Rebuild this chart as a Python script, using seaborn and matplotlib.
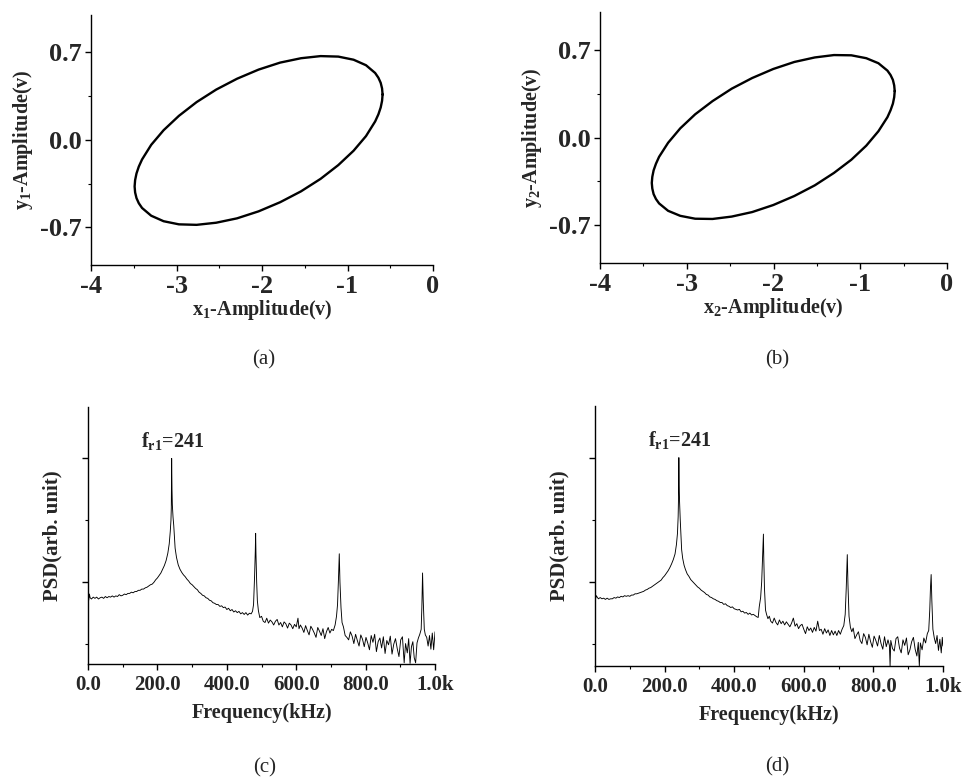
import numpy as np
import pandas as pd
import matplotlib
matplotlib.use("Agg")
import matplotlib.pyplot as plt
import seaborn as sns

# ---- data ----
# phase portraits (closed loops), points taken around the curve
loop_x1 = [-0.590, -0.596, -0.612, -0.639, -0.677, -0.784, -0.929, -1.108, -1.315, -1.544,
           -1.788, -2.040, -2.292, -2.536, -2.765, -2.972, -3.151, -3.296, -3.403, -3.441,
           -3.468, -3.484, -3.490, -3.484, -3.468, -3.441, -3.403, -3.296, -3.151, -2.972,
           -2.765, -2.536, -2.292, -2.040, -1.788, -1.544, -1.315, -1.108, -0.929, -0.784,
           -0.677, -0.639, -0.612, -0.596, -0.590]
loop_y1 = [0.364, 0.412, 0.457, 0.498, 0.536, 0.598, 0.642, 0.667, 0.671, 0.654,
           0.619, 0.563, 0.490, 0.403, 0.303, 0.193, 0.078, -0.039, -0.156, -0.213,
           -0.268, -0.321, -0.372, -0.420, -0.465, -0.506, -0.544, -0.606, -0.650, -0.675,
           -0.679, -0.662, -0.627, -0.571, -0.498, -0.411, -0.311, -0.201, -0.086, 0.031,
           0.148, 0.205, 0.260, 0.313, 0.364]

loop_x2 = [-0.603, -0.609, -0.624, -0.651, -0.687, -0.791, -0.931, -1.103, -1.303, -1.524,
           -1.760, -2.003, -2.246, -2.482, -2.703, -2.903, -3.075, -3.215, -3.319, -3.355,
           -3.382, -3.397, -3.403, -3.397, -3.382, -3.355, -3.319, -3.215, -3.075, -2.903,
           -2.703, -2.482, -2.246, -2.003, -1.760, -1.524, -1.303, -1.103, -0.931, -0.791,
           -0.687, -0.651, -0.624, -0.609, -0.603]
loop_y2 = [0.370, 0.415, 0.459, 0.498, 0.533, 0.592, 0.632, 0.655, 0.657, 0.638,
           0.602, 0.546, 0.474, 0.389, 0.290, 0.185, 0.073, -0.042, -0.154, -0.209,
           -0.262, -0.313, -0.362, -0.407, -0.451, -0.490, -0.525, -0.584, -0.624, -0.647,
           -0.649, -0.630, -0.594, -0.538, -0.466, -0.381, -0.282, -0.177, -0.065, 0.050,
           0.162, 0.217, 0.270, 0.321, 0.370]

# power spectra (arbitrary log units)
freq_c = [0, 2, 4, 6, 10, 15, 20, 25, 30, 35, 40, 45, 50, 55, 60, 65, 70, 75, 80, 85,
          90, 95, 100, 105, 110, 115, 120, 125, 130, 135, 140, 145, 150, 155, 160, 165, 170, 175, 180, 185,
          190, 195, 200, 205, 210, 215, 220, 225, 230, 234, 237, 239, 240, 241, 242, 243, 245, 247, 249, 251,
          255, 260, 265, 270, 275, 280, 285, 290, 295, 300, 305, 310, 315, 320, 325, 330, 335, 340, 345, 350,
          355, 360, 365, 370, 375, 380, 385, 390, 395, 400, 405, 410, 415, 420, 425, 430, 435, 440, 445, 450,
          455, 460, 465, 470, 474, 477, 480, 482, 483, 484, 486, 488, 491, 495, 500, 505, 510, 515, 520, 525,
          530, 535, 540, 545, 550, 555, 560, 565, 570, 575, 580, 585, 590, 595, 600, 605, 608, 612, 617, 622,
          627, 632, 637, 642, 647, 652, 657, 662, 667, 672, 677, 682, 687, 692, 697, 702, 707, 712, 716, 719,
          722, 724, 726, 729, 732, 736, 741, 746, 751, 756, 761, 766, 771, 776, 781, 786, 791, 796, 801, 806,
          811, 816, 821, 826, 831, 836, 841, 846, 851, 856, 861, 866, 871, 876, 881, 886, 891, 896, 901, 906,
          911, 915, 920, 924, 928, 932, 936, 940, 944, 948, 952, 956, 960, 962, 964, 966, 969, 972, 976, 980,
          984, 988, 992, 996, 1000]
psd_c = [-21.6, -22.9, -21.9, -22.5, -22.7, -22.4, -22.6, -22.4, -22.7, -22.5, -22.4, -22.6, -22.3, -22.5, -22.3, -22.4, -22.2, -22.4, -22.2, -22.3,
         -22.0, -22.2, -22.1, -21.9, -22.0, -21.8, -21.8, -21.6, -21.7, -21.5, -21.5, -21.3, -21.3, -21.1, -21.1, -20.9, -20.8, -20.6, -20.4, -20.3,
         -20.0, -19.6, -19.3, -18.9, -18.5, -17.9, -17.3, -16.5, -15.3, -13.8, -11.8, -10.0, -8.0, 0.0, -5.0, -7.5, -9.5, -10.8, -12.8, -14.5,
         -16.0, -17.2, -17.9, -18.4, -18.8, -19.1, -19.5, -19.8, -20.2, -20.4, -20.7, -21.0, -21.2, -21.6, -21.8, -22.1, -22.2, -22.5, -22.6, -22.9,
         -23.0, -23.3, -23.4, -23.6, -23.6, -23.9, -23.8, -24.1, -24.0, -24.4, -24.2, -24.6, -24.4, -24.8, -24.6, -24.9, -24.7, -25.1, -24.9, -25.2,
         -24.9, -25.3, -25.0, -25.1, -24.7, -23.6, -19.0, -15.0, -12.1, -15.5, -20.0, -23.0, -24.6, -25.7, -25.5, -26.3, -26.5, -25.8, -26.6, -26.1,
         -26.4, -26.9, -26.3, -26.0, -26.9, -26.5, -27.2, -26.4, -26.7, -27.4, -26.6, -26.9, -27.5, -26.8, -27.2, -25.8, -27.5, -26.9, -27.4, -28.1,
         -27.0, -27.8, -28.5, -27.1, -27.6, -28.2, -28.9, -27.3, -27.9, -28.6, -27.5, -29.1, -28.0, -27.3, -28.2, -27.6, -27.8, -26.9, -25.5, -23.6,
         -19.0, -15.4, -20.0, -24.1, -26.5, -27.2, -28.6, -28.9, -29.3, -28.0, -28.7, -29.9, -28.4, -29.4, -30.3, -28.5, -29.2, -30.4, -28.9, -29.8,
         -30.9, -28.6, -29.7, -28.4, -31.2, -29.6, -29.0, -30.6, -28.8, -31.5, -29.4, -30.1, -28.7, -31.6, -30.0, -29.1, -30.7, -32.0, -29.3, -28.8,
         -33.0, -29.9, -31.4, -29.1, -33.1, -30.4, -29.6, -32.2, -33.0, -29.8, -29.0, -28.4, -27.6, -24.0, -18.5, -23.0, -27.6, -28.5, -28.9, -30.3,
         -28.6, -30.8, -28.2, -30.9, -28.0]

freq_d = [0, 2, 4, 7, 10, 15, 20, 25, 30, 35, 40, 45, 50, 55, 60, 65, 70, 75, 80, 85,
          90, 95, 100, 105, 110, 115, 120, 125, 130, 135, 140, 145, 150, 155, 160, 165, 170, 175, 180, 185,
          190, 195, 200, 205, 210, 215, 220, 225, 230, 234, 237, 239, 240, 241, 242, 243, 245, 247, 249, 252,
          256, 260, 265, 270, 275, 280, 285, 290, 295, 300, 305, 310, 315, 320, 325, 330, 335, 340, 345, 350,
          355, 360, 365, 370, 375, 380, 385, 390, 395, 400, 405, 410, 415, 420, 425, 430, 435, 440, 445, 450,
          455, 460, 465, 469, 472, 476, 479, 482, 484, 485, 487, 490, 493, 497, 501, 505, 510, 515, 520, 525,
          530, 535, 540, 545, 550, 555, 560, 565, 570, 575, 580, 585, 590, 595, 600, 605, 610, 615, 620, 625,
          630, 635, 640, 645, 650, 655, 660, 665, 670, 675, 680, 685, 690, 695, 700, 705, 710, 715, 719, 722,
          725, 727, 730, 734, 738, 742, 747, 752, 757, 762, 767, 772, 777, 782, 787, 792, 797, 802, 807, 812,
          817, 822, 827, 832, 837, 842, 846, 848, 850, 855, 860, 865, 870, 875, 880, 885, 890, 895, 900, 905,
          910, 915, 920, 925, 929, 932, 935, 940, 945, 950, 955, 959, 962, 964, 966, 968, 971, 975, 979, 983,
          987, 991, 995, 998, 1000]
psd_d = [-21.5, -22.6, -22.2, -22.5, -22.7, -22.5, -22.7, -22.6, -22.8, -22.6, -22.8, -22.7, -22.7, -22.5, -22.6, -22.4, -22.5, -22.3, -22.4, -22.2,
         -22.3, -22.2, -22.3, -22.1, -22.1, -21.9, -21.9, -21.8, -21.7, -21.6, -21.5, -21.3, -21.2, -21.0, -20.9, -20.7, -20.5, -20.3, -20.1, -19.9,
         -19.7, -19.3, -19.0, -18.6, -18.2, -17.7, -17.1, -16.4, -15.5, -14.0, -12.2, -9.5, -6.5, 0.0, -4.5, -7.0, -10.0, -12.5, -14.8, -16.2,
         -17.3, -18.0, -18.7, -19.1, -19.6, -19.9, -20.2, -20.5, -20.8, -21.0, -21.3, -21.5, -21.7, -22.0, -22.1, -22.4, -22.5, -22.7, -22.8, -23.0,
         -23.1, -23.3, -23.3, -23.6, -23.5, -23.8, -23.9, -24.1, -24.0, -24.3, -24.4, -24.5, -24.4, -24.8, -24.7, -25.0, -24.9, -25.2, -25.0, -25.3,
         -25.2, -25.4, -25.6, -25.7, -24.0, -22.5, -20.0, -15.5, -12.3, -16.0, -21.0, -24.5, -25.2, -25.9, -25.5, -26.3, -26.6, -25.8, -26.5, -26.9,
         -26.1, -26.7, -26.3, -26.9, -26.4, -26.8, -27.2, -26.6, -25.8, -27.1, -26.7, -27.5, -27.0, -26.8, -27.6, -28.3, -27.2, -27.8, -27.4, -28.1,
         -27.3, -27.9, -26.3, -27.8, -27.6, -28.4, -27.5, -28.2, -27.7, -28.6, -27.8, -28.5, -27.9, -28.6, -27.8, -28.4, -27.6, -27.0, -25.2, -21.0,
         -15.6, -20.5, -25.5, -27.3, -28.0, -27.4, -29.1, -28.5, -28.0, -29.4, -29.9, -28.3, -28.9, -30.1, -28.4, -29.6, -30.5, -28.7, -29.4, -30.3,
         -28.6, -29.9, -30.8, -28.8, -30.4, -29.3, -30.2, -33.5, -29.4, -30.7, -31.1, -29.1, -28.8, -30.6, -31.4, -29.3, -30.2, -29.0, -31.7, -30.9,
         -29.6, -28.9, -30.8, -31.9, -29.7, -33.5, -29.8, -30.9, -29.0, -29.8, -28.3, -27.8, -24.5, -21.0, -18.8, -23.0, -27.6, -29.0, -29.9, -28.6,
         -31.0, -29.2, -31.4, -28.9, -30.3]

amp_ticks = [-0.7, 0.0, 0.7]
amp_tick_labels = ["-0.7", "0.0", "0.7"]
x_amp_ticks = [-4, -3, -2, -1, 0]
freq_ticks = [0, 200, 400, 600, 800, 1000]
freq_tick_labels = ["0.0", "200.0", "400.0", "600.0", "800.0", "1.0k"]
peak_label = r"$\mathrm{f_{r1}}$=241"

sns.set_style("ticks")
plt.rcParams["font.family"] = ["Liberation Serif", "DejaVu Serif"]
plt.rcParams["font.weight"] = "bold"
plt.rcParams["axes.labelweight"] = "bold"
plt.rcParams["axes.unicode_minus"] = False
plt.rcParams["mathtext.fontset"] = "custom"
plt.rcParams["mathtext.rm"] = "Liberation Serif:bold"
plt.rcParams["mathtext.it"] = "Liberation Serif:bold"
plt.rcParams["mathtext.bf"] = "Liberation Serif:bold"

fig = plt.figure(figsize=(9.64, 7.8), dpi=100)
ax_a = fig.add_axes([0.0944, 0.6603, 0.3548, 0.3205])
ax_b = fig.add_axes([0.6224, 0.6628, 0.3600, 0.3218])
ax_c = fig.add_axes([0.0913, 0.1487, 0.3600, 0.3295])
ax_d = fig.add_axes([0.6172, 0.1462, 0.3610, 0.3333])


def style_axes(ax):
    sns.despine(ax=ax)
    for s in ["left", "bottom"]:
        ax.spines[s].set_linewidth(1.0)
        ax.spines[s].set_color("black")
    ax.tick_params(which="major", direction="out", length=4, width=1.0, color="black")
    ax.tick_params(which="minor", direction="out", length=2.5, width=0.8, color="black")


def loop_panel(ax, xs, ys, idx):
    df = pd.DataFrame({"x": xs, "y": ys})
    sns.lineplot(data=df, x="x", y="y", sort=False, estimator=None, color="black",
                 linewidth=1.7, solid_joinstyle="round", ax=ax)
    ax.set_xlim(-4, 0)
    ax.set_ylim(-1.0, 1.0)
    ax.set_xticks(x_amp_ticks)
    ax.set_xticklabels([str(t) for t in x_amp_ticks])
    ax.set_xticks([-3.5, -2.5, -1.5, -0.5], minor=True)
    ax.set_yticks(amp_ticks)
    ax.set_yticklabels(amp_tick_labels)
    ax.set_yticks([-0.35, 0.35], minor=True)
    style_axes(ax)
    ax.tick_params(axis="both", which="major", labelsize=19, pad=3)
    ax.set_xlabel(r"$\mathrm{x_%d}$-Amplitude(v)" % idx, fontsize=14.5, labelpad=0)
    ax.set_ylabel(r"$\mathrm{y_%d}$-Amplitude(v)" % idx, fontsize=14.5, labelpad=3)


def psd_panel(ax, f, p, bottom):
    df = pd.DataFrame({"f": f, "p": p})
    sns.lineplot(data=df, x="f", y="p", sort=False, estimator=None, color="black",
                 linewidth=0.65, ax=ax)
    ax.set_xlim(0, 1000)
    ax.set_ylim(bottom, 8.3)
    ax.set_xticks(freq_ticks)
    ax.set_xticklabels(freq_tick_labels)
    ax.set_xticks([100, 300, 500, 700, 900], minor=True)
    ax.set_yticks([-20, 0])
    ax.set_yticks([-30, -10], minor=True)
    ax.set_yticklabels([])
    style_axes(ax)
    ax.tick_params(axis="x", which="major", labelsize=15, pad=4)
    ax.set_xlabel("Frequency(kHz)", fontsize=14.5, labelpad=6)
    ax.set_ylabel("PSD(arb. unit)", fontsize=15, labelpad=11)
    ax.text(243, 1.1, peak_label, ha="center", va="bottom", fontsize=14.5, fontweight="bold")


loop_panel(ax_a, loop_x1, loop_y1, 1)
loop_panel(ax_b, loop_x2, loop_y2, 2)
psd_panel(ax_c, freq_c, psd_c, -33.2)
psd_panel(ax_d, freq_d, psd_d, -33.5)

captions = ["(a)", "(b)", "(c)", "(d)"]
cap_pos = [(264, 360), (777, 360), (265, 768), (777, 767)]
for cap, (px, py) in zip(captions, cap_pos):
    fig.text(px / 964, 1 - py / 780, cap, ha="center", va="center", fontsize=15,
             fontweight="normal")

fig.savefig("out.png", dpi=100)
